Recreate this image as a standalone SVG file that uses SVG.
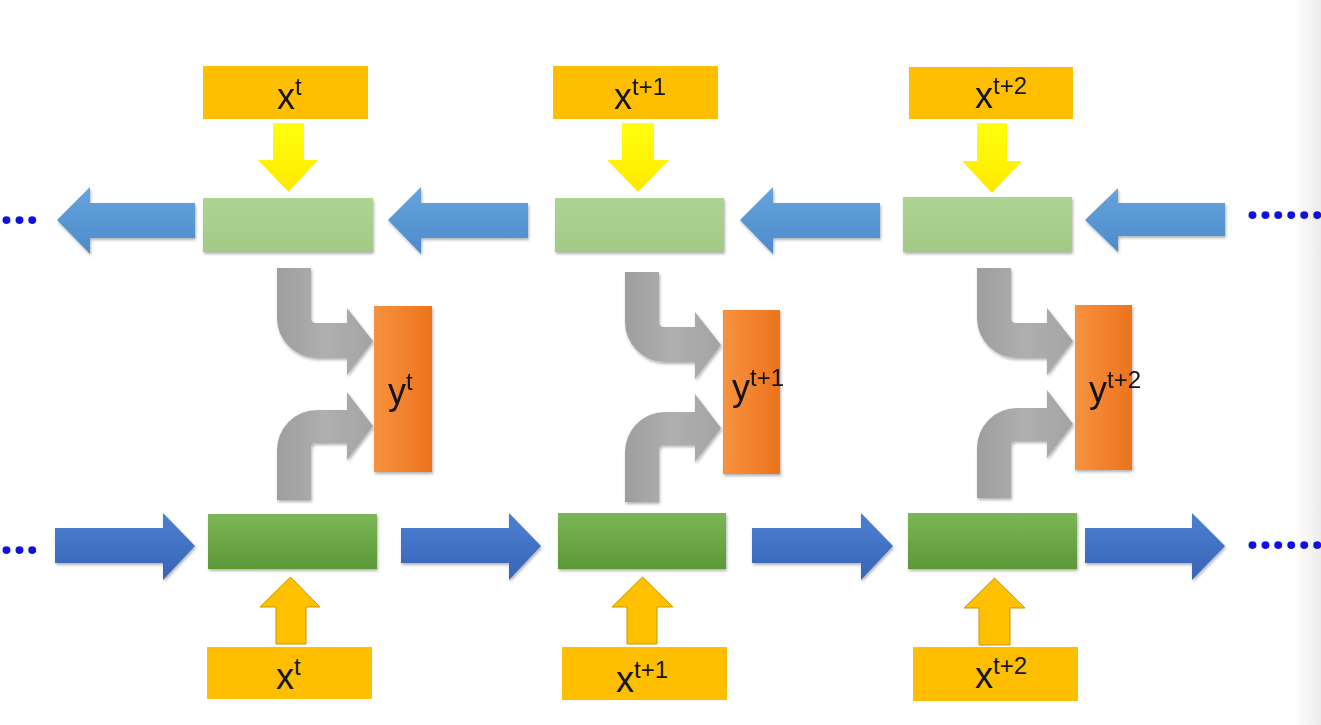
<svg xmlns="http://www.w3.org/2000/svg" width="1321" height="725" viewBox="0 0 1321 725">
<defs>
<style>
.lbl{font-family:"Liberation Sans","Arial",sans-serif;font-size:36px;fill:#141414}
.sup{font-size:24px}
.dots{font-family:"Noto Sans","Open Sans",sans-serif;font-size:46px;font-weight:bold;fill:#1010e0}
.xin{fill:#ffbf00}
.lg{fill:url(#gLight)}
.dg{fill:url(#gDark)}
.ybox{fill:url(#gOrange)}
.btop{fill:url(#gBlueTop)}
.bbot{fill:url(#gBlueBot)}
.yel{fill:url(#gYellow)}
.up{fill:#ffc000;stroke:#c99700;stroke-width:1}
.gray{fill:url(#gGray)}
</style>
<linearGradient id="gLight" x1="0" y1="0" x2="0" y2="1"><stop offset="0" stop-color="#aed493"/><stop offset="1" stop-color="#a2ca86"/></linearGradient>
<linearGradient id="gDark" x1="0" y1="0" x2="0" y2="1"><stop offset="0" stop-color="#7cb656"/><stop offset="1" stop-color="#5d9838"/></linearGradient>
<linearGradient id="gOrange" x1="0" y1="0" x2="1" y2="0"><stop offset="0" stop-color="#f8923f"/><stop offset="1" stop-color="#ec731d"/></linearGradient>
<linearGradient id="gBlueTop" x1="0" y1="0" x2="0" y2="1"><stop offset="0" stop-color="#66a4dc"/><stop offset="1" stop-color="#4b8bcb"/></linearGradient>
<linearGradient id="gBlueBot" x1="0" y1="0" x2="0" y2="1"><stop offset="0" stop-color="#4c80d2"/><stop offset="1" stop-color="#3864b6"/></linearGradient>
<linearGradient id="gYellow" x1="0" y1="0" x2="0" y2="1"><stop offset="0" stop-color="#ffff10"/><stop offset="1" stop-color="#ffe800"/></linearGradient>
<linearGradient id="gGray" x1="0" y1="0" x2="1" y2="0"><stop offset="0" stop-color="#9e9e9e"/><stop offset="0.5" stop-color="#afafaf"/><stop offset="1" stop-color="#a4a4a4"/></linearGradient>
<linearGradient id="gEdge" x1="0" y1="0" x2="1" y2="0"><stop offset="0" stop-color="#ffffff"/><stop offset="1" stop-color="#ebebeb"/></linearGradient>
<filter id="sh" x="-10%" y="-10%" width="120%" height="130%"><feDropShadow dx="1" dy="2" stdDeviation="1.5" flood-color="#000" flood-opacity="0.3"/></filter>
<path id="grayTop" d="M277,268 H311 V318 Q311,323 316,323 H347 V308 L373,341 L347,375 V358 H317 A40 40 0 0 1 277,318 Z"/>
<path id="grayBot" d="M277,500 V450 A40 40 0 0 1 317,410 H347 V392 L373,426 L347,460 V443 H316 Q311,443 311,448 V500 Z"/>
</defs>
<rect x="0" y="0" width="1321" height="725" fill="#ffffff"/>
<rect x="1294" y="0" width="27" height="725" fill="url(#gEdge)"/>

<g id="connectors">
  <!-- top row leftward blue arrows -->
  <g filter="url(#sh)">
    <path class="btop" d="M57,220 L90,187 V203 H195 V238 H90 V254 Z"/>
    <path class="btop" d="M388,220 L421,187 V203 H528 V238 H421 V254 Z"/>
    <path class="btop" d="M740,220 L773,187 V203 H880 V238 H773 V254 Z"/>
    <path class="btop" d="M1085,220 L1118,188 V203 H1225 V236 H1118 V252 Z"/>
  </g>
  <!-- bottom row rightward blue arrows -->
  <g filter="url(#sh)">
    <path class="bbot" d="M55,528 H163 V513 L195,546 L163,580 V563 H55 Z"/>
    <path class="bbot" d="M401,528 H509 V513 L541,546 L509,580 V563 H401 Z"/>
    <path class="bbot" d="M752,528 H861 V513 L893,546 L861,580 V563 H752 Z"/>
    <path class="bbot" d="M1085,528 H1192 V513 L1225,546 L1192,580 V563 H1085 Z"/>
  </g>
  <!-- yellow down arrows -->
  <path class="yel" d="M273,123 H304 V160 H318 L288.5,192 L258,160 H273 Z"/>
  <path class="yel" d="M622,123 H654 V160 H669 L638,192 L607,160 H622 Z"/>
  <path class="yel" d="M977,123 H1007 V161 H1022 L992,193 L962,161 H977 Z"/>
  <!-- orange up arrows -->
  <path class="up" d="M276,644 V607 H260 L290.5,577 L320,607 H306 V644 Z"/>
  <path class="up" d="M627,644 V607 H612 L642.5,577 L673,607 H657 V644 Z"/>
  <path class="up" d="M979,645 V608 H964 L994.5,578 L1025,608 H1010 V645 Z"/>
  <!-- gray curved arrows -->
  <g class="gray" filter="url(#sh)">
    <use href="#grayTop"/>
    <use href="#grayBot"/>
    <use href="#grayTop" transform="translate(348,4)"/>
    <use href="#grayBot" transform="translate(348,2)"/>
    <use href="#grayTop" transform="translate(700,0)"/>
    <use href="#grayBot" transform="translate(700,-2)"/>
  </g>
  <!-- continuation dots -->
  <text class="dots" x="0" y="224">...</text>
  <text class="dots" x="0" y="554">...</text>
  <text class="dots" x="1246" y="219">......</text>
  <text class="dots" x="1246" y="549">......</text>
</g>

<!-- top inputs -->
<g id="xTop1"><rect class="xin" x="203" y="66" width="165" height="53"/><text class="lbl" x="277" y="109">x<tspan class="sup" dy="-14">t</tspan></text></g>
<g id="xTop2"><rect class="xin" x="553" y="66" width="165" height="53"/><text class="lbl" x="614" y="109">x<tspan class="sup" dy="-14">t+1</tspan></text></g>
<g id="xTop3"><rect class="xin" x="909" y="67" width="164" height="52"/><text class="lbl" x="975" y="108">x<tspan class="sup" dy="-14">t+2</tspan></text></g>

<!-- backward hidden states -->
<g id="hBack1" filter="url(#sh)"><rect class="lg" x="203" y="198" width="170" height="54"/></g>
<g id="hBack2" filter="url(#sh)"><rect class="lg" x="555" y="198" width="169" height="54"/></g>
<g id="hBack3" filter="url(#sh)"><rect class="lg" x="903" y="197" width="169" height="55"/></g>

<!-- outputs -->
<g id="y1" filter="url(#sh)"><rect class="ybox" x="374" y="306" width="58" height="166"/></g>
<g id="y2" filter="url(#sh)"><rect class="ybox" x="723" y="310" width="57" height="164"/></g>
<g id="y3" filter="url(#sh)"><rect class="ybox" x="1075" y="305" width="57" height="165"/></g>
<g id="yLabels">
  <text class="lbl" x="388" y="404">y<tspan class="sup" dy="-14">t</tspan></text>
  <text class="lbl" x="732" y="400">y<tspan class="sup" dy="-14">t+1</tspan></text>
  <text class="lbl" x="1089" y="402">y<tspan class="sup" dy="-14">t+2</tspan></text>
</g>

<!-- forward hidden states -->
<g id="hFwd1" filter="url(#sh)"><rect class="dg" x="208" y="514" width="169" height="55"/></g>
<g id="hFwd2" filter="url(#sh)"><rect class="dg" x="558" y="513" width="168" height="56"/></g>
<g id="hFwd3" filter="url(#sh)"><rect class="dg" x="908" y="513" width="169" height="56"/></g>

<!-- bottom inputs -->
<g id="xBot1"><rect class="xin" x="207" y="647" width="165" height="52"/><text class="lbl" x="276" y="689">x<tspan class="sup" dy="-14">t</tspan></text></g>
<g id="xBot2"><rect class="xin" x="562" y="647" width="165" height="53"/><text class="lbl" x="616" y="692">x<tspan class="sup" dy="-14">t+1</tspan></text></g>
<g id="xBot3"><rect class="xin" x="913" y="647" width="165" height="54"/><text class="lbl" x="975" y="688">x<tspan class="sup" dy="-14">t+2</tspan></text></g>
</svg>
